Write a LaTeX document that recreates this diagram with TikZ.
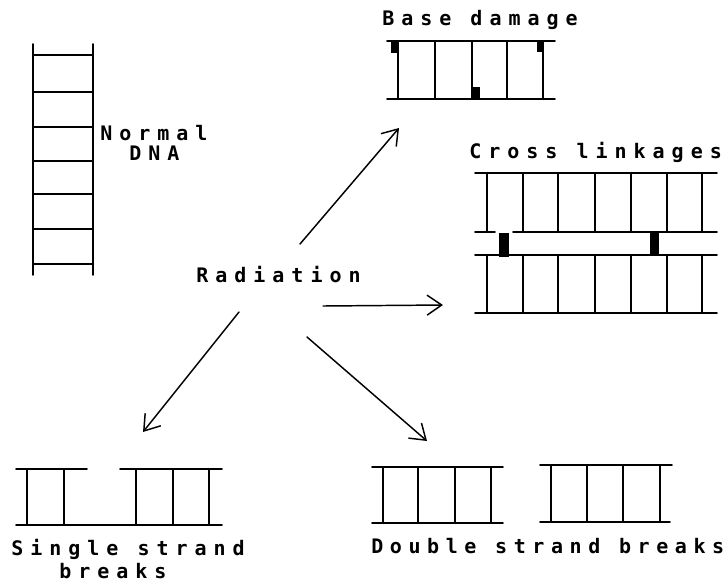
\documentclass[tikz,border=0pt]{standalone}
\usepackage{fontspec}
\usetikzlibrary{arrows.meta}
% spaced monospace lettering for all labels
\newfontfamily\lblfont[LetterSpace=35]{DejaVu Sans Mono Bold}
\begin{document}
\begin{tikzpicture}[x=0.75pt,y=-0.75pt,
  strand/.style={line width=1.4pt,line cap=round},
  rung/.style={line width=1.3pt},
  lesion/.style={fill=black,draw=none},
  lbl/.style={inner sep=0pt,anchor=base west,font=\lblfont\fontsize{15pt}{17pt}\selectfont},
  effect/.style={line width=1.1pt,line cap=round,line join=round,
    -{Straight Barb[length=11pt,width=15pt,line width=1.1pt]}}]
\useasboundingbox (0,0) rectangle (728,583);

% normal DNA: vertical ladder
\draw[strand] (33,44) -- (33,275);
\draw[strand] (93,44) -- (93,275);
\foreach \y in {55,92,127,161,194,229,264}
  \draw[rung] (33,\y) -- (93,\y);
\node[lbl,text depth=0pt] (normal) at (100,140) {Normal};
\node[lbl] (dna) at (129,160) {DNA};

% base damage
\node[lbl] (base) at (382,25) {Base damage};
\draw[strand] (387,41) -- (555,41);
\draw[strand] (387,99) -- (555,99);
\foreach \x in {398,435,472,507,543}
  \draw[rung] (\x,41) -- (\x,99);
\fill[lesion] (391,41) rectangle (398,53);
\fill[lesion] (537,41) rectangle (543,52);
\fill[lesion] (472,87) rectangle (480,99);

% cross linkages between two duplexes
\node[lbl] (cross) at (469,158) {Cross linkages};
\draw[strand] (475,173) -- (717,173);
\draw[strand] (475,232) -- (495,232);
\draw[strand] (513,232) -- (717,232);
\draw[strand] (475,255) -- (717,255);
\draw[strand] (475,313) -- (717,313);
\foreach \x in {487,523,558,595,631,667,702}{
  \draw[rung] (\x,173) -- (\x,232);
  \draw[rung] (\x,255) -- (\x,313);
}
\fill[lesion] (499,233) rectangle (509,257);
\fill[lesion] (650,232) rectangle (659,255);

% single strand breaks
\draw[strand] (16,469) -- (87,469);
\draw[strand] (120,469) -- (222,469);
\draw[strand] (16,525) -- (222,525);
\foreach \x in {27,64,136,173,209}
  \draw[rung] (\x,469) -- (\x,525);
\node[lbl] (single) at (11,555) {Single strand};
\node[lbl] (breaks) at (59,578) {breaks};

% double strand breaks
\draw[strand] (372,467) -- (503,467);
\draw[strand] (372,523) -- (503,523);
\foreach \x in {383,418,455,491}
  \draw[rung] (\x,467) -- (\x,523);
\draw[strand] (540,465) -- (672,465);
\draw[strand] (540,522) -- (670,522);
\foreach \x in {551,587,623,660}
  \draw[rung] (\x,465) -- (\x,522);
\node[lbl] (double) at (371,553) {\addfontfeature{LetterSpace=33}Double strand breaks};

% radiation and its effects
\node[lbl] (rad) at (196,282) {Radiation};
\coordinate (toBase0) at (300,244);
\coordinate (toBase) at (399,128);
\coordinate (toCross0) at (323,306);
\coordinate (toCross) at (443,305);
\coordinate (toSingle0) at (239,312);
\coordinate (toSingle) at (143,432);
\coordinate (toDouble0) at (307,337);
\coordinate (toDouble) at (427,441);
\draw[effect] (toBase0) -- (toBase);
\draw[effect] (toCross0) -- (toCross);
\draw[effect] (toSingle0) -- (toSingle);
\draw[effect] (toDouble0) -- (toDouble);
\end{tikzpicture}
\end{document}
